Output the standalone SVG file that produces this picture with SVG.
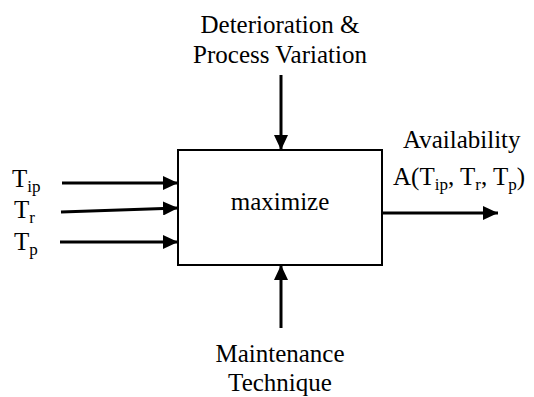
<svg xmlns="http://www.w3.org/2000/svg" width="534" height="397" viewBox="0 0 534 397">
  <style>
    text { font-family: 'Liberation Serif', 'Times New Roman', Times, 'DejaVu Serif', serif; font-size: 25px; fill: #000; }
    .sub { font-size: 17px; }
    .mid { text-anchor: middle; }
    .box { fill: #fff; stroke: #000; stroke-width: 2; }
    .conn { stroke: #000; stroke-width: 3; fill: none; marker-end: url(#arrow); }
  </style>
  <defs>
    <marker id="arrow" markerUnits="userSpaceOnUse" markerWidth="16" markerHeight="14" refX="15" refY="7" orient="auto">
      <path d="M0,0 L15,7 L0,14 Z" fill="#000"/>
    </marker>
  </defs>

  <!-- process block -->
  <g id="node-maximize">
    <rect class="box" x="178" y="150" width="204" height="115"/>
    <text class="mid" x="280" y="210">maximize</text>
  </g>

  <!-- top control input -->
  <g id="node-deterioration">
    <text class="mid" x="280" y="33">Deterioration &amp;</text>
    <text class="mid" x="280" y="63">Process Variation</text>
  </g>

  <!-- bottom mechanism input -->
  <g id="node-maintenance">
    <text class="mid" x="280" y="362">Maintenance</text>
    <text class="mid" x="280" y="391">Technique</text>
  </g>

  <!-- left inputs -->
  <g id="node-tip">
    <text x="12" y="187">T<tspan class="sub" dy="5">ip</tspan></text>
  </g>
  <g id="node-tr">
    <text x="14" y="218">T<tspan class="sub" dy="5">r</tspan></text>
  </g>
  <g id="node-tp">
    <text x="14" y="250">T<tspan class="sub" dy="5">p</tspan></text>
  </g>

  <!-- output -->
  <g id="node-availability">
    <text x="403" y="148">Availability</text>
    <text x="393" y="185">A(T<tspan class="sub" dy="5">ip</tspan><tspan dy="-5">, T</tspan><tspan class="sub" dy="5">r</tspan><tspan dy="-5">, T</tspan><tspan class="sub" dy="5">p</tspan><tspan dy="-5">)</tspan></text>
  </g>

  <!-- connectors -->
  <g id="connectors">
    <line class="conn" x1="281" y1="75" x2="281" y2="150"/>
    <line class="conn" x1="281" y1="328" x2="281" y2="265"/>
    <line class="conn" x1="62" y1="183" x2="178" y2="183"/>
    <line class="conn" x1="61" y1="212" x2="178" y2="208"/>
    <line class="conn" x1="60" y1="242" x2="178" y2="242"/>
    <line class="conn" x1="382" y1="213" x2="498" y2="213"/>
  </g>
</svg>
